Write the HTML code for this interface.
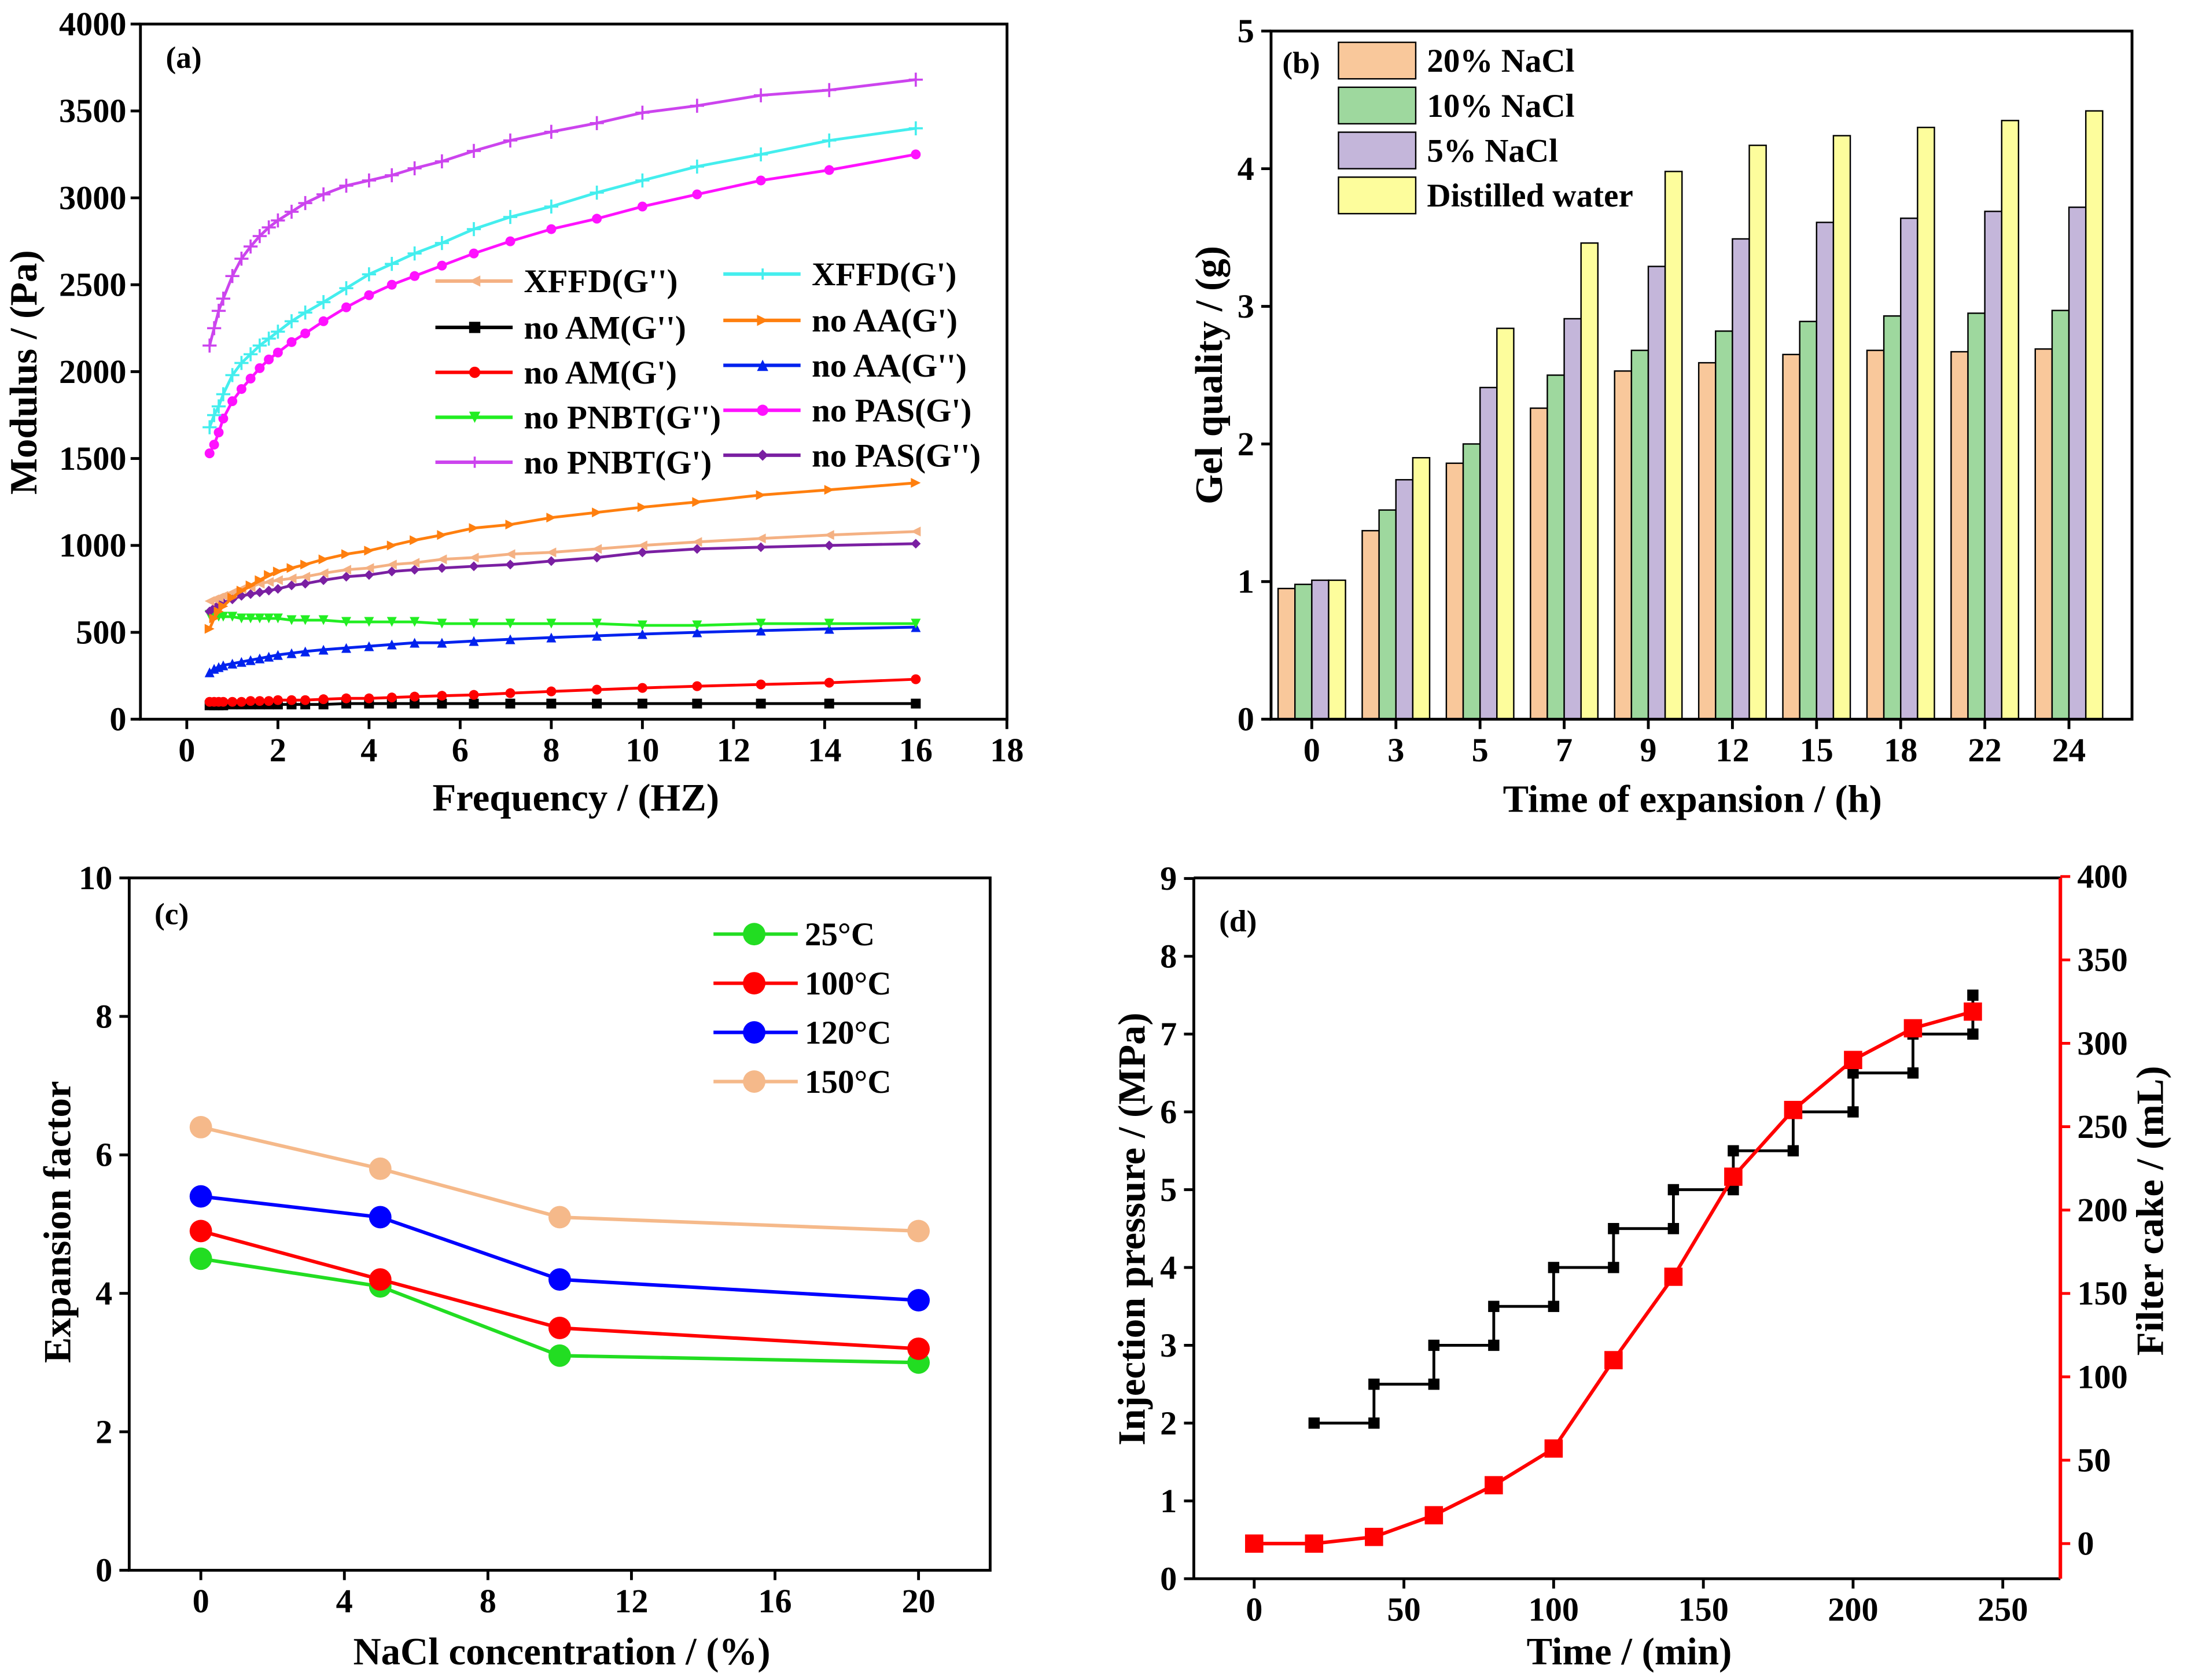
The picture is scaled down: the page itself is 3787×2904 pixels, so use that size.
<!DOCTYPE html>
<html><head><meta charset="utf-8"><style>
html,body{margin:0;padding:0;background:#fff}
svg{display:block}
text{font-family:"Liberation Serif",serif;font-weight:bold;fill:#000}
</style></head><body>
<svg id="fig" width="3787" height="2904" viewBox="0 0 1560 1196" xmlns="http://www.w3.org/2000/svg"></svg>
<script>
// ---------- Panel (a) data ----------
const freqA = [0.5,0.6,0.7,0.8,1,1.2,1.4,1.6,1.8,2,2.3,2.6,3,3.5,4,4.5,5,5.6,6.3,7.1,8,9,10,11.2,12.6,14.1,16];
const pnbtGp = [2150,2250,2350,2420,2550,2650,2720,2780,2830,2870,2920,2970,3020,3070,3100,3130,3170,3210,3270,3330,3380,3430,3490,3530,3590,3620,3680];
const xffdGp = [1680,1750,1800,1870,1980,2050,2100,2150,2190,2230,2290,2340,2400,2480,2560,2620,2680,2740,2820,2890,2950,3030,3100,3180,3250,3330,3400];
const pasGp = [1530,1580,1650,1730,1830,1900,1960,2020,2070,2110,2170,2220,2290,2370,2440,2500,2550,2610,2680,2750,2820,2880,2950,3020,3100,3160,3250];
const aaGp = [520,580,620,650,700,740,770,800,830,850,870,890,920,950,970,1000,1030,1060,1100,1120,1160,1190,1220,1250,1290,1320,1360];
const xffdGpp = [680,690,700,710,730,750,760,780,790,800,810,820,840,860,870,890,900,920,930,950,960,980,1000,1020,1040,1060,1080];
const pasGpp = [620,640,660,670,690,710,720,730,740,750,770,780,800,820,830,850,860,870,880,890,910,930,960,980,990,1000,1010];
const pnbtGpp = [600,600,590,590,590,580,580,580,580,580,570,570,570,560,560,560,560,550,550,550,550,550,540,540,550,550,550];
const aaGpp = [270,290,300,310,320,330,340,350,360,370,380,390,400,410,420,430,440,440,450,460,470,480,490,500,510,520,530];
const amGp = [100,100,100,100,100,100,105,105,105,110,110,110,115,120,120,125,130,135,140,150,160,170,180,190,200,210,230];
const amGpp = [80,80,80,80,85,85,85,85,85,85,85,85,85,90,90,90,90,90,90,90,90,90,90,90,90,90,90];
const xTicksA = [0,2,4,6,8,10,12,14,16,18];
const yTicksA = [0,500,1000,1500,2000,2500,3000,3500,4000];
// ---------- Panel (b) data ----------
const catsB = ["0","3","5","7","9","12","15","18","22","24"];
const b20 = [0.95,1.37,1.86,2.26,2.53,2.59,2.65,2.68,2.67,2.69];
const b10 = [0.98,1.52,2.00,2.50,2.68,2.82,2.89,2.93,2.95,2.97];
const b5 = [1.01,1.74,2.41,2.91,3.29,3.49,3.61,3.64,3.69,3.72];
const bDW = [1.01,1.90,2.84,3.46,3.98,4.17,4.24,4.30,4.35,4.42];
const yTicksB = [0,1,2,3,4,5];
// ---------- Panel (c) data ----------
const naclC = [0,5,10,20];
const c25 = [4.5,4.1,3.1,3.0];
const c100 = [4.9,4.2,3.5,3.2];
const c120 = [5.4,5.1,4.2,3.9];
const c150 = [6.4,5.8,5.1,4.9];
const xTicksC = [0,4,8,12,16,20];
const yTicksC = [0,2,4,6,8,10];
// ---------- Panel (d) data ----------
const timeP = [20,40,40,60,60,80,80,100,100,120,120,140,140,160,160,180,180,200,200,220,220,240,240];
const pressP = [2,2,2.5,2.5,3,3,3.5,3.5,4,4,4.5,4.5,5,5,5.5,5.5,6,6,6.5,6.5,7,7,7.5];
const timeF = [0,20,40,60,80,100,120,140,160,180,200,220,240];
const cakeF = [0,0,4,17,35,57,110,160,220,260,290,309,319];
const xTicksD = [0,50,100,150,200,250];
const yTicksD = [0,1,2,3,4,5,6,7,8,9];
const yTicksD2 = [0,50,100,150,200,250,300,350,400];

const TK=24, LG=23.5, TT=27.5, PL=22;
const NS="http://www.w3.org/2000/svg";
const svg=document.getElementById('fig');
function el(tag,attrs,parent,txt){const e=document.createElementNS(NS,tag);for(const k in attrs)e.setAttribute(k,attrs[k]);if(txt!==undefined)e.textContent=txt;(parent||svg).appendChild(e);return e;}
function grp(name){const g=el('g',{});return g;}
function txt(g,x,y,s,size,anchor,extra){const t=el('text',Object.assign({x:x,y:y,'font-size':size,'text-anchor':anchor||'middle'},extra||{}),g,s);return t;}
function marker(g,shape,x,y,s,c){
  if(shape==='sq') el('rect',{x:x-s,y:y-s,width:2*s,height:2*s,fill:c},g);
  else if(shape==='c') el('circle',{cx:x,cy:y,r:s,fill:c},g);
  else if(shape==='tl') el('polygon',{points:`${x-s},${y} ${x+s},${y-s} ${x+s},${y+s}`,fill:c},g);
  else if(shape==='tr') el('polygon',{points:`${x+s},${y} ${x-s},${y-s} ${x-s},${y+s}`,fill:c},g);
  else if(shape==='tu') el('polygon',{points:`${x},${y-s} ${x-s},${y+s} ${x+s},${y+s}`,fill:c},g);
  else if(shape==='td') el('polygon',{points:`${x},${y+s} ${x-s},${y-s} ${x+s},${y-s}`,fill:c},g);
  else if(shape==='d') el('polygon',{points:`${x},${y-s} ${x+s},${y} ${x},${y+s} ${x-s},${y}`,fill:c},g);
  else if(shape==='st'){el('line',{x1:x-s,y1:y,x2:x+s,y2:y,stroke:c,'stroke-width':1.5},g);el('line',{x1:x,y1:y-s,x2:x,y2:y+s,stroke:c,'stroke-width':1.5},g);}
}
function series(name,xs,ys,fx,fy,color,shape,ms,lw){
  const g=grp(name);
  el('polyline',{points:xs.map((v,i)=>fx(v)+','+fy(ys[i])).join(' '),fill:'none',stroke:color,'stroke-width':lw||2},g);
  xs.forEach((v,i)=>marker(g,shape,fx(v),fy(ys[i]),ms,color));
}
function frame(x0,y0,x1,y1,name){const r=el('rect',{x:x0,y:y0,width:x1-x0,height:y1-y0,fill:'none',stroke:'#000','stroke-width':2});}

// ===== Panel (a) =====
{
const X0=100,X1=717,Y0=17,Y1=512;
const fx=v=>133+v*32.44, fy=v=>512-v*0.12375;
const ax=grp('panel-a-x-axis'), ay=grp('panel-a-y-axis');
xTicksA.forEach(v=>{el('line',{x1:fx(v),y1:Y1,x2:fx(v),y2:Y1+7,stroke:'#000','stroke-width':2},ax);txt(ax,fx(v),Y1+30,v,TK);});
yTicksA.forEach(v=>{el('line',{x1:X0-7,y1:fy(v),x2:X0,y2:fy(v),stroke:'#000','stroke-width':2},ay);txt(ay,X0-10,fy(v)+8,v,TK,'end');});
const s=[['series-no-am-gpp',amGpp,'#000','sq'],['series-no-am-gp',amGp,'#f00','c'],['series-no-aa-gpp',aaGpp,'#0022ee','tu'],['series-no-pnbt-gpp',pnbtGpp,'#22ee22','td'],['series-no-pas-gpp',pasGpp,'#7a1fa2','d'],['series-xffd-gpp',xffdGpp,'#f4b183','tl'],['series-no-aa-gp',aaGp,'#ff7f0e','tr'],['series-no-pas-gp',pasGp,'#ff11ff','c'],['series-xffd-gp',xffdGp,'#44eeee','st'],['series-no-pnbt-gp',pnbtGp,'#cc44ee','st']];
s.forEach(a=>series(a[0],freqA,a[1],fx,fy,a[2],a[3],a[3]==='st'?5:3.5,2));
frame(X0,Y0,X1,Y1,'panel-a-frame');
const lg=grp('panel-a-legend');
const L=[[310,200,'XFFD(G\'\')','#f4b183','tl'],[310,233,'no AM(G\'\')','#000','sq'],[310,265,'no AM(G\')','#f00','c'],[310,297,'no PNBT(G\'\')','#22ee22','td'],[310,329,'no PNBT(G\')','#cc44ee','st'],
[515,195,'XFFD(G\')','#44eeee','st'],[515,228,'no AA(G\')','#ff7f0e','tr'],[515,260,'no AA(G\'\')','#0022ee','tu'],[515,292,'no PAS(G\')','#ff11ff','c'],[515,324,'no PAS(G\'\')','#7a1fa2','d']];
L.forEach(l=>{el('line',{x1:l[0],y1:l[1],x2:l[0]+55,y2:l[1],stroke:l[3],'stroke-width':2.5},lg);marker(lg,l[4],l[0]+28,l[1],4,l[3]);txt(lg,l[0]+63,l[1]+8,l[2],LG,'start');});
txt(grp('panel-a-label'),118,48,'(a)',PL,'start');
txt(grp('panel-a-x-title'),410,577,'Frequency / (HZ)',TT);
txt(grp('panel-a-y-title'),26,265,'Modulus / (Pa)',TT,'middle',{transform:'rotate(-90 26 265)'});
}
// ===== Panel (b) =====
{
const X0=905,X1=1518,Y0=22,Y1=512;
const fy=v=>512-v*98, cx=i=>934+i*59.9, bw=12;
const ay=grp('panel-b-y-axis'), ax=grp('panel-b-x-axis');
yTicksB.forEach(v=>{el('line',{x1:X0-7,y1:fy(v),x2:X0,y2:fy(v),stroke:'#000','stroke-width':2},ay);txt(ay,X0-12,fy(v)+8,v,TK,'end');});
catsB.forEach((c,i)=>{el('line',{x1:cx(i),y1:Y1,x2:cx(i),y2:Y1+7,stroke:'#000','stroke-width':2},ax);txt(ax,cx(i),Y1+30,c,TK);});
const S=[['20',b20,'#f9c89b'],['10',b10,'#9ed89e'],['5',b5,'#c4b6da'],['dw',bDW,'#fdfd9c']];
S.forEach((s,k)=>{const g=grp('bars-'+s[0]);s[1].forEach((v,i)=>{const r=el('rect',{x:cx(i)-2*bw+k*bw,y:fy(v),width:bw,height:Y1-fy(v),fill:s[2],stroke:'#000','stroke-width':1},g);});});
frame(X0,Y0,X1,Y1,'panel-b-frame');
const lg=grp('panel-b-legend');
[['20% NaCl','#f9c89b'],['10% NaCl','#9ed89e'],['5% NaCl','#c4b6da'],['Distilled water','#fdfd9c']].forEach((l,i)=>{const y=30+i*32;el('rect',{x:953,y:y,width:55,height:26,fill:l[1],stroke:'#000','stroke-width':1},lg);txt(lg,1016,y+21,l[0],LG,'start');});
txt(grp('panel-b-label'),913,52,'(b)',PL,'start');
txt(grp('panel-b-x-title'),1205,578,'Time of expansion / (h)',TT);
txt(grp('panel-b-y-title'),870,267,'Gel quality / (g)',TT,'middle',{transform:'rotate(-90 870 267)'});
}
// ===== Panel (c) =====
{
const X0=92,X1=705,Y0=625,Y1=1118;
const fx=v=>143+v*25.55, fy=v=>1118-v*49.3;
const ax=grp('panel-c-x-axis'), ay=grp('panel-c-y-axis');
xTicksC.forEach(v=>{el('line',{x1:fx(v),y1:Y1,x2:fx(v),y2:Y1+7,stroke:'#000','stroke-width':2},ax);txt(ax,fx(v),Y1+30,v,TK);});
yTicksC.forEach(v=>{el('line',{x1:X0-7,y1:fy(v),x2:X0,y2:fy(v),stroke:'#000','stroke-width':2},ay);txt(ay,X0-12,fy(v)+8,v,TK,'end');});
[['series-25c',c25,'#22dd22'],['series-100c',c100,'#ff0000'],['series-120c',c120,'#0000ff'],['series-150c',c150,'#f5b98a']].forEach(s=>series(s[0],naclC,s[1],fx,fy,s[2],'c',8,2.5));
frame(X0,Y0,X1,Y1,'panel-c-frame');
const lg=grp('panel-c-legend');
[['25°C','#22dd22'],['100°C','#ff0000'],['120°C','#0000ff'],['150°C','#f5b98a']].forEach((l,i)=>{const y=665+i*35;el('line',{x1:508,y1:y,x2:568,y2:y,stroke:l[1],'stroke-width':2.5},lg);el('circle',{cx:537,cy:y,r:8,fill:l[1]},lg);txt(lg,573,y+8,l[0],LG,'start');});
txt(grp('panel-c-label'),110,658,'(c)',PL,'start');
txt(grp('panel-c-x-title'),400,1185,'NaCl concentration / (%)',TT);
txt(grp('panel-c-y-title'),50,870,'Expansion factor',TT,'middle',{transform:'rotate(-90 50 870)'});
}
// ===== Panel (d) =====
{
const X0=850,X1=1467,Y0=625,Y1=1124;
const fx=v=>893+v*2.132, fy=v=>1124-v*55.4, fy2=v=>1099-v*1.1875;
const ax=grp('panel-d-x-axis'), ay=grp('panel-d-y-axis'), ay2=grp('panel-d-right-axis');
xTicksD.forEach(v=>{el('line',{x1:fx(v),y1:Y1,x2:fx(v),y2:Y1+7,stroke:'#000','stroke-width':2},ax);txt(ax,fx(v),Y1+30,v,TK);});
yTicksD.forEach(v=>{el('line',{x1:X0-7,y1:fy(v),x2:X0,y2:fy(v),stroke:'#000','stroke-width':2},ay);txt(ay,X0-12,fy(v)+8,v,TK,'end');});
yTicksD2.forEach(v=>{el('line',{x1:X1,y1:fy2(v),x2:X1+7,y2:fy2(v),stroke:'#f00','stroke-width':2},ay2);txt(ay2,X1+12,fy2(v)+8,v,TK,'start');});
series('series-injection-pressure',timeP,pressP,fx,fy,'#000','sq',4,2);
series('series-filter-cake',timeF,cakeF,fx,fy2,'#f00','sq',6.5,2.5);
el('line',{x1:X0,y1:Y0,x2:X0,y2:Y1,stroke:'#000','stroke-width':2});
el('line',{x1:X0,y1:Y0,x2:X1,y2:Y0,stroke:'#000','stroke-width':2});
el('line',{x1:X0,y1:Y1,x2:X1,y2:Y1,stroke:'#000','stroke-width':2});
el('line',{x1:X1,y1:Y0,x2:X1,y2:Y1,stroke:'#f00','stroke-width':2.5});
txt(grp('panel-d-label'),868,663,'(d)',PL,'start');
txt(grp('panel-d-x-title'),1160,1185,'Time / (min)',TT);
txt(grp('panel-d-y-title'),815,875,'Injection pressure / (MPa)',TT,'middle',{transform:'rotate(-90 815 875)'});
txt(grp('panel-d-right-title'),1540,862,'Filter cake / (mL)',TT,'middle',{transform:'rotate(-90 1540 862)'});
}
</script>
</body></html>
